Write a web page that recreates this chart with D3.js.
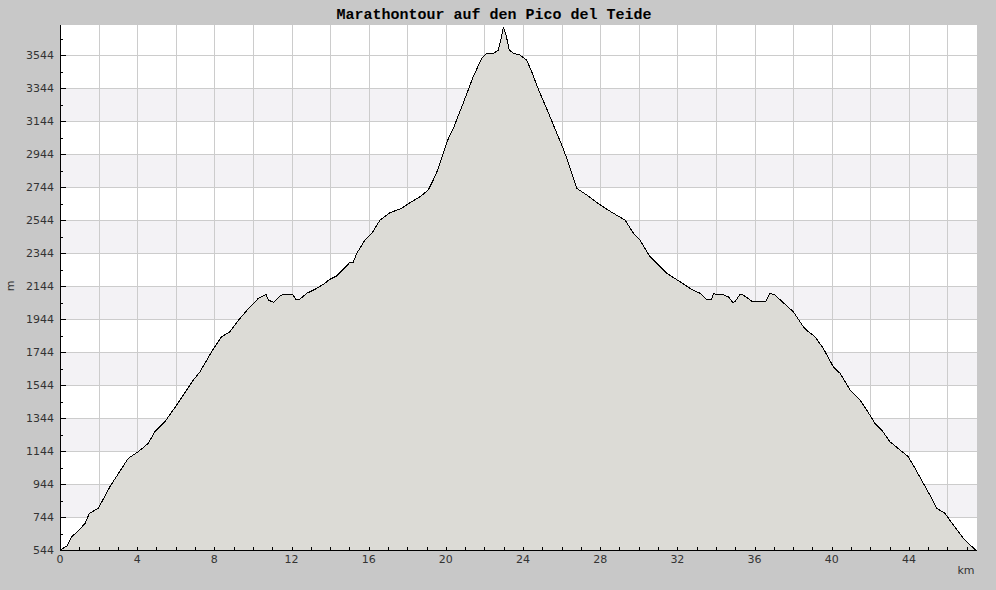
<!DOCTYPE html>
<html><head><meta charset="utf-8">
<script src="https://cdn.jsdelivr.net/npm/d3@7/dist/d3.min.js"></script>
<style>html,body{margin:0;padding:0;background:#c8c8c8;}svg{display:block;}</style>
</head><body>
<svg id="c" width="996" height="590"></svg>
<script>
const title = "Marathontour auf den Pico del Teide";
const xLabel = "km", yLabel = "m";
const km = [0,0.36,0.61,1.00,1.30,1.52,1.99,2.59,3.20,3.54,4.06,4.58,4.92,5.44,6.05,6.91,7.26,7.86,8.38,8.81,9.33,9.85,10.28,10.68,10.80,11.06,11.40,11.57,12.06,12.22,12.44,12.79,13.22,13.65,13.99,14.34,14.68,15.03,15.20,15.38,15.81,16.16,16.59,17.10,17.71,18.14,18.66,19.09,19.35,19.61,19.87,20.13,20.39,20.90,21.42,21.86,22.12,22.46,22.72,22.89,22.98,23.12,23.29,23.50,23.84,24.19,24.45,24.79,25.23,25.66,26.09,26.43,26.78,27.30,28.08,28.68,29.29,29.72,30.06,30.58,30.93,31.45,32.14,32.65,33.17,33.52,33.78,33.86,34.30,34.64,34.87,34.99,35.25,35.42,35.85,36.59,36.80,37.06,37.49,38.01,38.53,38.79,39.13,39.56,40.08,40.43,40.95,41.47,41.81,42.24,42.59,43.02,43.54,43.97,44.32,44.75,45.09,45.44,45.87,46.30,46.82,47.17,47.45];
const elev = [544,568,625,665,706,766,797,928,1039,1100,1140,1191,1261,1322,1423,1574,1625,1746,1837,1867,1948,2018,2069,2094,2059,2045,2083,2094,2094,2063,2065,2100,2124,2154,2185,2205,2245,2288,2288,2342,2423,2463,2544,2588,2615,2649,2685,2726,2787,2857,2948,3039,3100,3253,3413,3524,3554,3554,3574,3655,3716,3665,3574,3554,3544,3513,3443,3338,3217,3096,2975,2863,2736,2696,2629,2585,2544,2464,2423,2322,2282,2221,2170,2130,2100,2063,2063,2096,2094,2079,2045,2049,2094,2089,2053,2053,2100,2089,2043,1988,1897,1867,1837,1766,1655,1615,1514,1453,1393,1312,1271,1200,1150,1109,1039,948,877,797,766,696,615,574,546];
const yTicks = [544,744,944,1144,1344,1544,1744,1944,2144,2344,2544,2744,2944,3144,3344,3544];
const xTickLabels = [0,4,8,12,16,20,24,28,32,36,40,44];
const xDomain = [0, 47.53], yDomain = [544, 3726];

const data = km.map((k,i)=>({k, e: elev[i]}));
const svg = d3.select("#c");
const L = 60, R = 977, T = 25, B = 550;
const x = d3.scaleLinear().domain(xDomain).range([L, R]);
const y = d3.scaleLinear().domain(yDomain).range([B, T]);

svg.append("rect").attr("x",0).attr("y",0).attr("width",996).attr("height",590).attr("fill","#c8c8c8");
svg.append("rect").attr("x",L).attr("y",T).attr("width",R-L).attr("height",B-T).attr("fill","#ffffff");

// alternating bands
for (let i = 0; i < yTicks.length-1; i++) {
  if (i % 2 === 1) {
    svg.append("rect").attr("x",L).attr("width",R-L)
      .attr("y", y(yTicks[i+1])).attr("height", y(yTicks[i]) - y(yTicks[i+1]))
      .attr("fill","#f3f2f5");
  }
}
// grid
const g = svg.append("g").attr("shape-rendering","crispEdges").attr("stroke","#cccccc").attr("stroke-width",1);
yTicks.slice(1).forEach(v => g.append("line").attr("x1",L).attr("x2",R).attr("y1",Math.round(y(v))+0.5).attr("y2",Math.round(y(v))+0.5));
d3.range(2, 48, 2).forEach(v => g.append("line").attr("y1",T).attr("y2",B).attr("x1",Math.round(x(v))+0.5).attr("x2",Math.round(x(v))+0.5));

// area
const area = d3.area().x(d=>x(d.k)).y0(y(yDomain[0])).y1(d=>y(d.e));
svg.append("path").datum(data).attr("d", area).attr("fill","#dcdbd6");
const line = d3.line().x(d=>x(d.k)).y(d=>y(d.e));
svg.append("path").datum(data).attr("d", line).attr("fill","none").attr("stroke","#000").attr("stroke-width",1).attr("shape-rendering","crispEdges");

// axes
const yAxis = d3.axisRight(y).tickValues(d3.range(544, 3700, 100)).tickSize(0).tickFormat("");
const ya = svg.append("g").attr("shape-rendering","crispEdges");
ya.append("line").attr("x1",L+0.5).attr("x2",L+0.5).attr("y1",T).attr("y2",B+0.5).attr("stroke","#000");
d3.range(544, 3700, 100).forEach(v => {
  const major = yTicks.includes(v);
  const yy = Math.round(y(v))+0.5;
  ya.append("line").attr("x1",L).attr("x2",L + (major?6:3)).attr("y1",yy).attr("y2",yy).attr("stroke","#000");
});
yTicks.forEach(v => {
  svg.append("text").attr("x",54).attr("y",y(v)+4).attr("text-anchor","end")
    .attr("font-family","DejaVu Sans").attr("font-size",11).attr("fill","#333").text(v);
});
const xa = svg.append("g").attr("shape-rendering","crispEdges");
xa.append("line").attr("x1",L).attr("x2",R).attr("y1",B+0.5).attr("y2",B+0.5).attr("stroke","#000");
d3.range(0, 48, 1).forEach(v => {
  const xx = Math.round(x(v))+0.5;
  xa.append("line").attr("x1",xx).attr("x2",xx).attr("y1",B+1).attr("y2",B-3).attr("stroke","#000");
});
xTickLabels.forEach(v => {
  svg.append("text").attr("x",x(v)).attr("y",563).attr("text-anchor","middle")
    .attr("font-family","DejaVu Sans").attr("font-size",11).attr("fill","#333").text(v);
});
svg.append("text").attr("x",966).attr("y",574).attr("text-anchor","middle")
  .attr("font-family","DejaVu Sans").attr("font-size",11).attr("fill","#333").text(xLabel);
svg.append("text").attr("transform","translate(14,286) rotate(-90)").attr("text-anchor","middle")
  .attr("font-family","DejaVu Sans").attr("font-size",11).attr("fill","#333").text(yLabel);
svg.append("text").attr("x",494).attr("y",19).attr("text-anchor","middle")
  .attr("font-family","Liberation Mono").attr("font-weight","bold").attr("font-size",15).attr("fill","#000").text(title);
</script>
</body></html>
